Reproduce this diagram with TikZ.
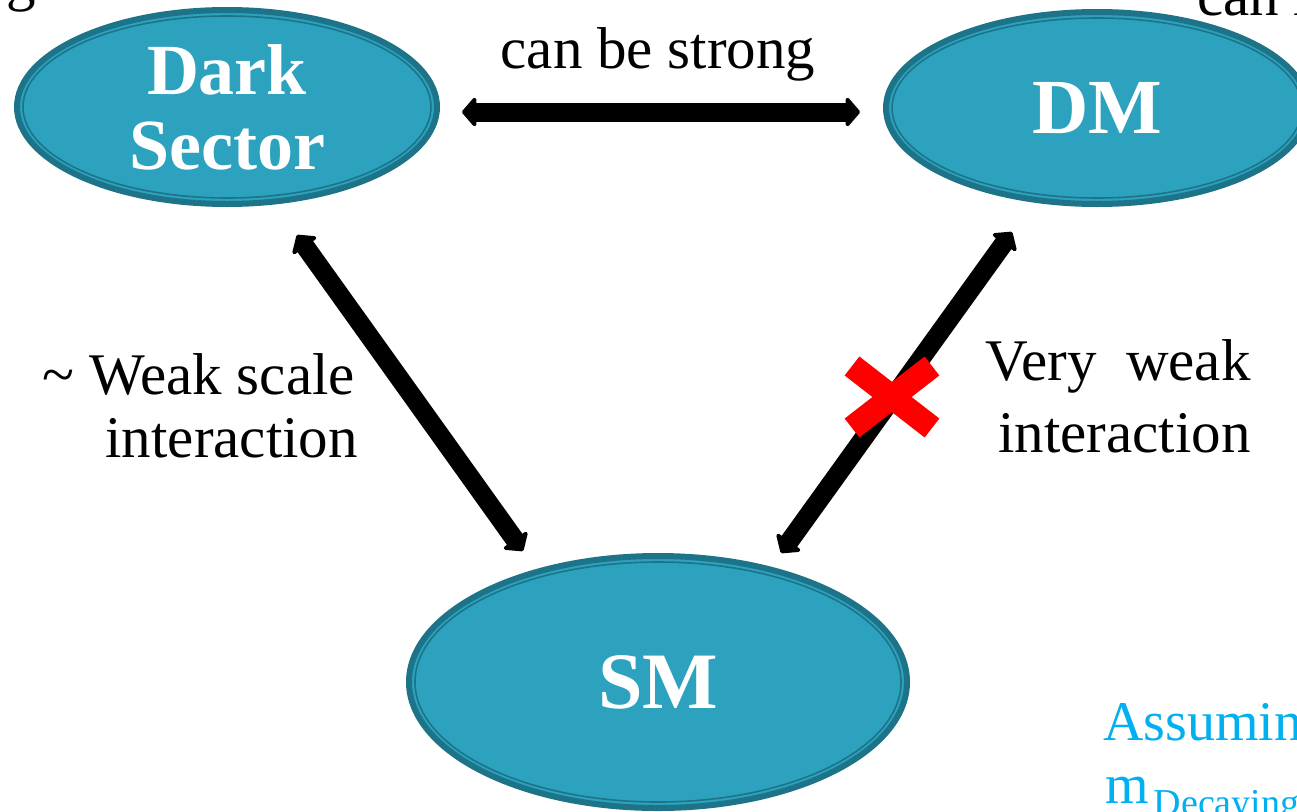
\documentclass[tikz,border=0pt]{standalone}
\usepackage{fontspec}
\setmainfont{Liberation Serif}
\usetikzlibrary{shapes.geometric,arrows.meta,calc}
\definecolor{blobfill}{HTML}{2CA2BF}
\definecolor{blobedge}{HTML}{1D7489}
\definecolor{cyantext}{HTML}{00B0F0}
\definecolor{xred}{HTML}{FF0000}
\tikzset{
  bigtip/.tip={Triangle[length=15pt,width=34pt,round]},
  blob/.style={ellipse, fill=blobfill, draw=blobedge, line width=6pt, inner sep=0pt,
    text=white, align=center},
  innerring/.style={draw=blobedge, line width=1.6pt},
  conn/.style={line width=19pt, bigtip-bigtip},
  xbar/.style={xred, line width=24pt, line cap=butt},
  lbl/.style={inner sep=0pt, font=\fontsize{59}{62}\selectfont},
}
\begin{document}
\begin{tikzpicture}[x=1pt,y=-1pt]
\useasboundingbox (0,0) rectangle (1297,811);
\fill[white] (0,0) rectangle (1297,811);
\clip (0,0) rectangle (1297,811);

% ellipses
\node[blob, minimum width=420pt, minimum height=194pt,
      font=\bfseries\fontsize{72}{75}\selectfont] (ds) at (227,107) {Dark\\Sector};
\draw[innerring] (ds.center) ellipse [x radius=204, y radius=91];

\node[blob, minimum width=422pt, minimum height=192pt,
      font=\bfseries\fontsize{78}{80}\selectfont] (dm) at (1097,108) {DM};
\draw[innerring] (dm.center) ellipse [x radius=205, y radius=90];

\node[blob, minimum width=498pt, minimum height=252pt,
      font=\bfseries\fontsize{80}{82}\selectfont] (sm) at (658,682) {SM};
\draw[innerring] (sm.center) ellipse [x radius=243, y radius=120];

% connectors
\draw[conn] ($(ds.east)+(22,5)$) -- ($(dm.west)+(-23,4)$);
\draw[conn] ($(ds.south)+(70,28)$) -- ($(sm.north)+(-135,-2)$);
\draw[conn] ($(dm.south)+(-85,25)$) -- ($(sm.north)+(123,0)$);

% red cross
\draw[xbar] (852,366) -- (932,428);
\draw[xbar] (852,428) -- (932,366);

% labels
\node[lbl, anchor=base] (cbs) at (658,68) {can be strong};
\node[lbl, anchor=base east] (lw1) at (355,394) {\symbol{"7E} Weak scale};
\node[lbl, anchor=base east] (lw2) at (358,457) {interaction};
\node[lbl, anchor=base west] (rw1) at (985,380) {Very\ \ weak};
\node[lbl, anchor=base west] (rw2) at (998,452) {interaction};

% clipped slide fragments
\node[lbl, anchor=base west] (tl) at (6,-1) {g to};
\node[lbl, anchor=base west] (tr) at (1197,15) {can l};
\node[inner sep=0pt, anchor=base west, text=cyantext, font=\fontsize{56}{60}\selectfont] (as1) at (1103,740) {Assumin};
\node[inner sep=0pt, anchor=base west, text=cyantext, font=\fontsize{56}{60}\selectfont] (as2) at (1105,803)
  {m\kern5pt\raisebox{-12pt}{\fontsize{38}{40}\selectfont Decaying}};
\end{tikzpicture}
\end{document}
